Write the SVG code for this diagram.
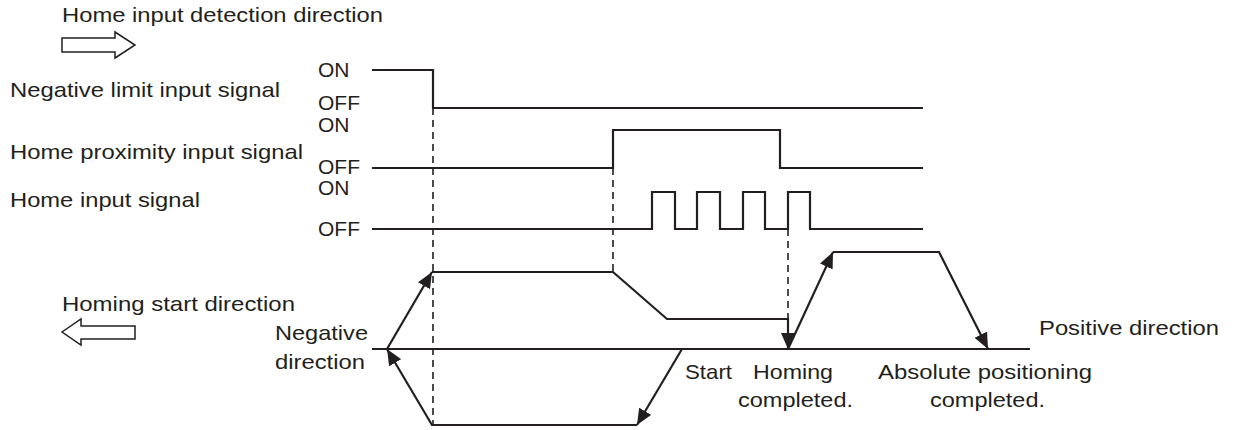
<svg xmlns="http://www.w3.org/2000/svg" width="1235" height="430" viewBox="0 0 1235 430">
<defs>
<style>
.t{font-family:"Liberation Sans",Arial,sans-serif;font-size:21px;fill:#231f20}
.s{fill:none;stroke:#231f20;stroke-width:2.2}
.d{fill:none;stroke:#231f20;stroke-width:1.6;stroke-dasharray:7 5}
.o{fill:#fff;stroke:#231f20;stroke-width:1.5}
</style>
<marker id="ah" markerUnits="userSpaceOnUse" markerWidth="18" markerHeight="15" refX="16" refY="7" orient="auto">
<path d="M0,0 L16,7 L0,14 z" fill="#231f20"/>
</marker>
</defs>
<rect width="1235" height="430" fill="#fff"/>
<g id="legend-detection">
<text class="t" x="62" y="22" textLength="321" lengthAdjust="spacingAndGlyphs">Home input detection direction</text>
<path class="o" d="M62,38 L115,38 L115,32 L135,45 L115,58 L115,52 L62,52 z"/>
</g>
<g id="legend-homing">
<text class="t" x="62" y="311" textLength="233" lengthAdjust="spacingAndGlyphs">Homing start direction</text>
<path class="o" d="M62,332 L81,319 L81,326 L135,326 L135,339 L81,339 L81,345 z"/>
</g>
<g id="sig-neg-limit">
<text class="t" x="10" y="97" textLength="270" lengthAdjust="spacingAndGlyphs">Negative limit input signal</text>
<text class="t" x="318" y="77">ON</text>
<text class="t" x="318" y="110">OFF</text>
<path class="s" d="M372,70 H433 V108 H923"/>
</g>
<g id="sig-home-prox">
<text class="t" x="10" y="159" textLength="293" lengthAdjust="spacingAndGlyphs">Home proximity input signal</text>
<text class="t" x="318" y="132">ON</text>
<text class="t" x="318" y="174">OFF</text>
<path class="s" d="M372,168 H613 V130 H780 V168 H923"/>
</g>
<g id="sig-home">
<text class="t" x="10" y="207" textLength="190" lengthAdjust="spacingAndGlyphs">Home input signal</text>
<text class="t" x="318" y="195">ON</text>
<text class="t" x="318" y="236">OFF</text>
<path class="s" d="M372,229 H652 V192 H675 V229 H697 V192 H720 V229 H743 V192 H765 V229 H788 V192 H810 V229 H923"/>
</g>
<g id="connectors">
<path class="d" d="M433,108 V425"/>
<path class="d" d="M613,168 V272"/>
<path class="d" d="M788,229 V319"/>
<path class="s" d="M372,349 H1030"/>
<path class="s" d="M682,349 L637,425" marker-end="url(#ah)"/>
<path class="s" d="M637,425 H432 L387,349" marker-end="url(#ah)"/>
<path class="s" d="M387,349 L432,272" marker-end="url(#ah)"/>
<path class="s" d="M432,272 H613 L667,319 H788 V349" marker-end="url(#ah)"/>
<path class="s" d="M788,349 L833,252" marker-end="url(#ah)"/>
<path class="s" d="M833,252 H939 L988,349" marker-end="url(#ah)"/>
</g>
<g id="labels">
<text class="t" x="275" y="340" textLength="93" lengthAdjust="spacingAndGlyphs">Negative</text>
<text class="t" x="275" y="369" textLength="90" lengthAdjust="spacingAndGlyphs">direction</text>
<text class="t" x="685" y="379" textLength="47" lengthAdjust="spacingAndGlyphs">Start</text>
<text class="t" x="753" y="379" textLength="80" lengthAdjust="spacingAndGlyphs">Homing</text>
<text class="t" x="738" y="407" textLength="115" lengthAdjust="spacingAndGlyphs">completed.</text>
<text class="t" x="878" y="379" textLength="214" lengthAdjust="spacingAndGlyphs">Absolute positioning</text>
<text class="t" x="930" y="407" textLength="115" lengthAdjust="spacingAndGlyphs">completed.</text>
<text class="t" x="1039" y="335" textLength="180" lengthAdjust="spacingAndGlyphs">Positive direction</text>
</g>
</svg>
